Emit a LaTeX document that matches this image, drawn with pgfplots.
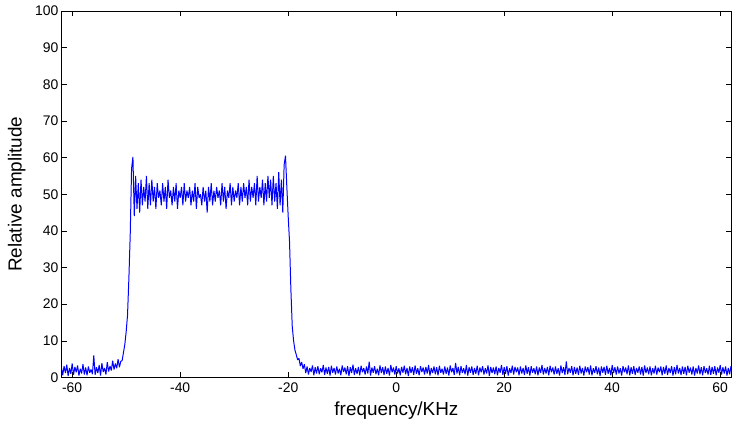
\documentclass[border=0pt]{standalone}
\usepackage{pgfplots}
\pgfplotsset{compat=1.18}
\usepackage{fontspec}
\setmainfont{Liberation Sans}
\begin{document}
\begin{tikzpicture}
\path[use as bounding box] (-62bp,-47bp) rectangle (672bp,378bp);
\begin{axis}[
  at={(0,0)}, anchor=south west,
  scale only axis,
  width=670bp, height=367bp,
  xmin=-61.9, xmax=62, ymin=0, ymax=100,
  xtick={-60,-40,-20,0,20,40,60},
  ytick={0,10,...,100},
  tick align=inside,
  major tick length=5bp,
  axis line style={line width=0.9pt},
  every tick/.style={black, line width=0.6pt},
  tick label style={font=\fontsize{14}{16}\selectfont},
  /pgf/number format/assume math mode=true,
  xticklabel style={yshift=-2bp},
  label style={font=\fontsize{19}{22}\selectfont},
  xlabel={frequency/KHz},
  ylabel={Relative amplitude},
  xlabel style={at={(axis description cs:0.5,0)}, anchor=north, yshift=-21bp},
  ylabel style={at={(axis description cs:0,0.5)}, anchor=south, xshift=0bp, yshift=33bp},
]
\addplot[color={rgb,255:red,0;green,0;blue,255}, line width=1.0pt, line join=bevel, mark=none]
  table[x expr=\coordindex*0.25-62, y index=0, header=false] {
2.8
0.6
3.1
1.2
3.5
0.4
2.6
1.0
3.8
0.7
2.9
1.4
3.3
0.5
2.4
1.1
3.6
0.8
2.7
0.6
3.0
1.3
2.2
0.9
6.0
0.7
2.8
1.2
3.4
0.5
3.9
1.5
2.6
0.8
4.2
1.6
3.1
1.9
4.6
2.2
3.8
2.5
5.0
2.8
4.4
4.6
6.8
9.0
12.5
17
27
39
57
60.2
44
55
46
53
45
54
47
52
48
55
46
53
47
54
48
52
46
53
49
51
47
53
48
52
46
54
49
51
47
52
48
53
46
51
49
52
47
53
48
51
49
52
47
51
48
53
46
52
49
50
47
52
48
51
45
52
48
53
47
51
48
52
49
51
47
53
48
52
46
51
49
53
47
52
48
51
49
53
47
52
48
53
49
52
47
54
48
52
49
53
47
55
48
52
49
54
47
53
48
55
49
54
47
55
48
53
46
56
47
54
45
58
60.5
52
44
37
24
14
10
7.5
6.2
4.8
5.2
3.1
4.2
2.4
3.6
1.2
3.0
0.8
2.6
1.5
3.3
0.6
2.8
1.1
3.1
0.9
2.5
1.4
3.4
0.7
2.7
1.0
2.9
0.5
3.2
1.3
2.6
0.8
3.0
1.1
2.4
0.6
3.3
1.5
2.7
0.9
3.1
0.4
2.8
1.2
3.5
0.7
2.5
1.0
2.9
0.6
3.2
1.4
2.6
0.8
3.0
1.1
4.3
0.5
2.7
1.3
3.1
0.9
2.4
0.6
3.3
1.2
2.8
0.7
3.0
1.0
2.6
0.5
3.4
1.4
2.7
0.8
3.1
1.1
2.5
0.6
2.9
1.3
3.2
0.9
2.6
0.4
3.0
1.2
2.8
0.7
3.3
1.0
2.5
0.6
3.1
1.5
2.7
0.8
2.9
1.1
3.4
0.5
2.6
1.2
3.0
0.9
2.8
0.6
3.2
1.3
2.4
0.8
3.0
1.0
2.7
0.5
3.3
1.4
2.6
0.7
4.0
1.1
2.9
0.6
3.1
1.2
2.5
0.9
3.4
0.5
2.8
1.3
3.0
0.7
2.6
1.0
3.2
0.6
2.7
1.4
3.1
0.8
2.5
1.1
3.3
0.4
2.9
1.2
2.7
0.9
3.0
0.6
2.6
1.3
3.4
0.7
2.8
1.0
3.1
0.5
2.5
1.2
3.2
0.8
2.9
1.4
2.7
0.6
3.0
1.1
2.6
0.7
3.3
1.0
2.8
0.5
3.1
1.3
2.5
0.9
3.0
0.6
2.7
1.2
3.4
0.8
2.6
1.1
2.9
0.6
3.2
1.4
2.7
0.8
3.0
1.0
2.5
0.5
3.3
1.2
2.8
0.7
4.4
0.9
2.6
1.3
3.1
0.6
2.9
1.0
2.7
0.7
3.2
1.1
2.6
0.5
3.0
1.4
2.8
0.8
3.3
0.6
2.5
1.2
3.1
0.9
2.7
0.4
3.0
1.3
2.9
0.7
3.2
1.0
2.6
0.6
3.4
1.2
2.8
0.8
3.0
1.1
2.5
0.5
3.1
1.4
2.7
0.9
3.3
0.6
2.8
1.0
3.1
0.7
2.6
1.3
3.0
0.8
2.9
0.5
3.3
1.2
2.7
0.9
3.0
0.6
2.5
1.1
3.2
0.8
2.7
1.4
3.0
0.6
2.9
1.0
3.3
0.7
2.6
1.2
3.1
0.5
2.8
0.9
3.4
1.1
2.6
0.7
3.0
1.0
2.9
0.6
3.2
1.3
2.7
0.8
3.0
0.5
2.6
1.1
3.3
0.9
2.8
0.6
3.1
1.2
2.5
0.8
3.2
0.7
2.9
1.0
3.1
0.6
2.7
1.3
3.4
0.8
2.8
1.1
3.0
0.5
2.6
0.9
3.1
};
\end{axis}
\end{tikzpicture}
\end{document}
